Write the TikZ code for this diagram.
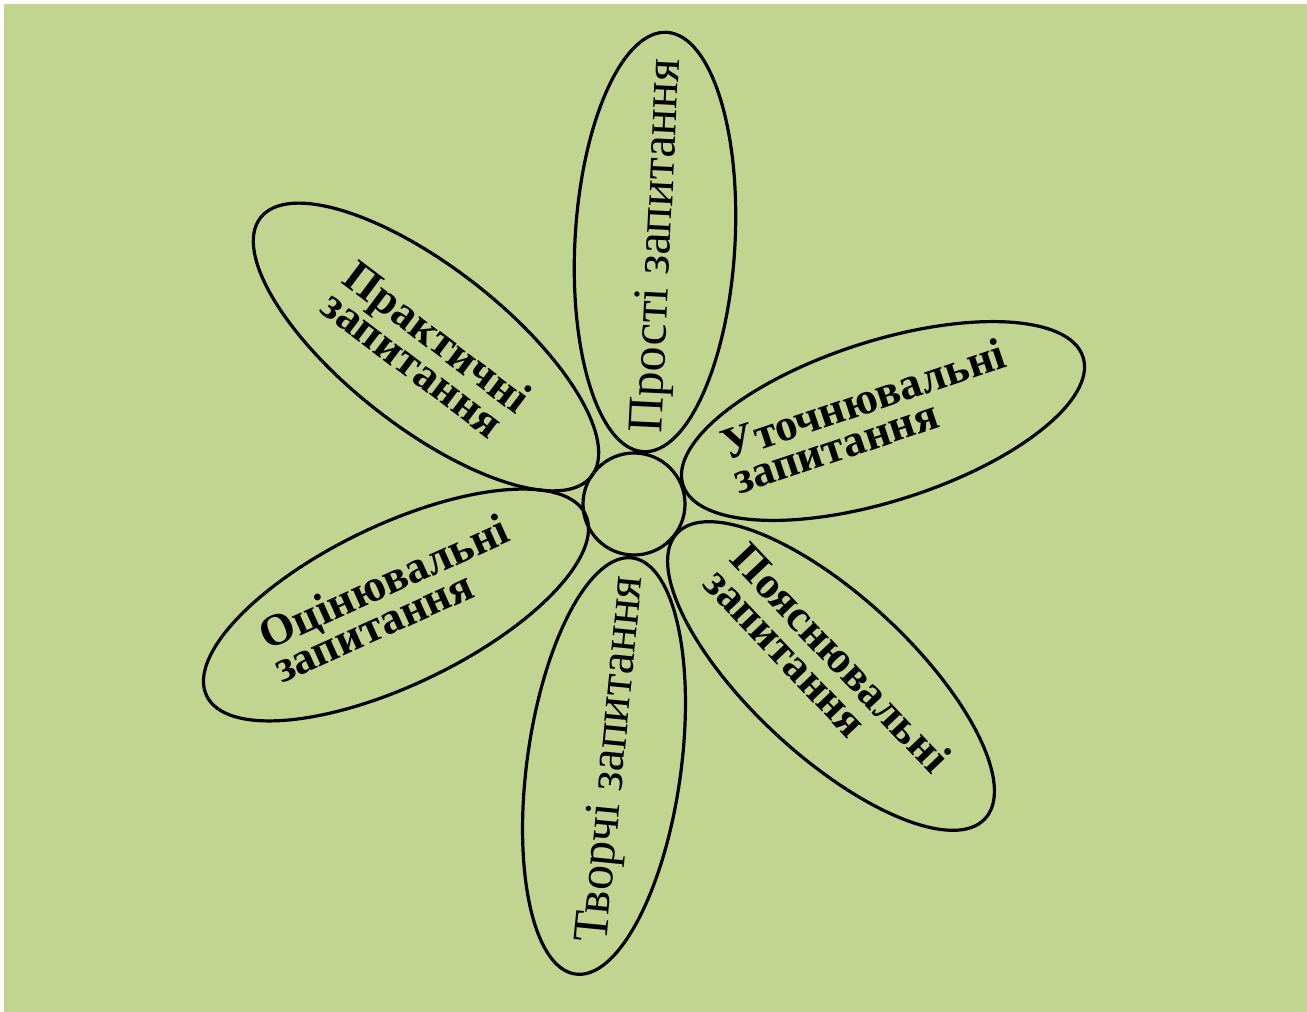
\documentclass[tikz,border=0pt]{standalone}
\usepackage{fontspec}
\setmainfont{Liberation Serif}
\usetikzlibrary{shapes.geometric}
\definecolor{bg}{RGB}{193,213,145}
\begin{document}
\begin{tikzpicture}[x=1pt,y=-1pt,
  petal/.style={draw=black, line width=3.2pt, ellipse, minimum width=420pt, minimum height=160pt, inner sep=0pt},
  lbl/.style={font=\fontsize{45}{36}\selectfont\bfseries, align=left, inner sep=0pt},
  vlbl/.style={font=\fontsize{50}{50}\selectfont, inner sep=0pt},
  core/.style={draw=black, line width=3.2pt, circle, minimum size=102pt, inner sep=0pt}]
\useasboundingbox (0,0) rectangle (1307,1012);
\fill[white] (0,0) rectangle (1307,1012);
\fill[bg] (4,4) rectangle (1307,1012);
% petals
\node[petal, rotate=86.8] (ptop) at (655,242) {};
\node[petal, rotate=-38] (pprak) at (426,347) {};
\node[petal, rotate=17.7] (ptoch) at (883,421) {};
\node[petal, rotate=25.6] (pocin) at (396,605) {};
\node[petal, rotate=-42.8] (pposn) at (831,676) {};
\node[petal, rotate=82.2, minimum height=154pt] (ptvor) at (604,766) {};
% centre
\node[core] (centre) at (634,504) {};
% labels
\node[vlbl, rotate=87.2] (tprost) at (659,246) {Прості запитання};
\node[lbl, rotate=-37] (tprak) at (427,351) {Практичні\\запитання};
\node[lbl, rotate=18.5] (ttoch) at (869,416) {Уточнювальні\\запитання};
\node[lbl, rotate=24.2] (tocin) at (391,598) {Оцінювальні\\запитання};
\node[lbl, rotate=-46.5] (tposn) at (828,670) {Пояснювальні\\запитання};
\node[vlbl, rotate=84.4] (ttvor) at (613,759) {Творчі запитання};
\end{tikzpicture}
\end{document}
